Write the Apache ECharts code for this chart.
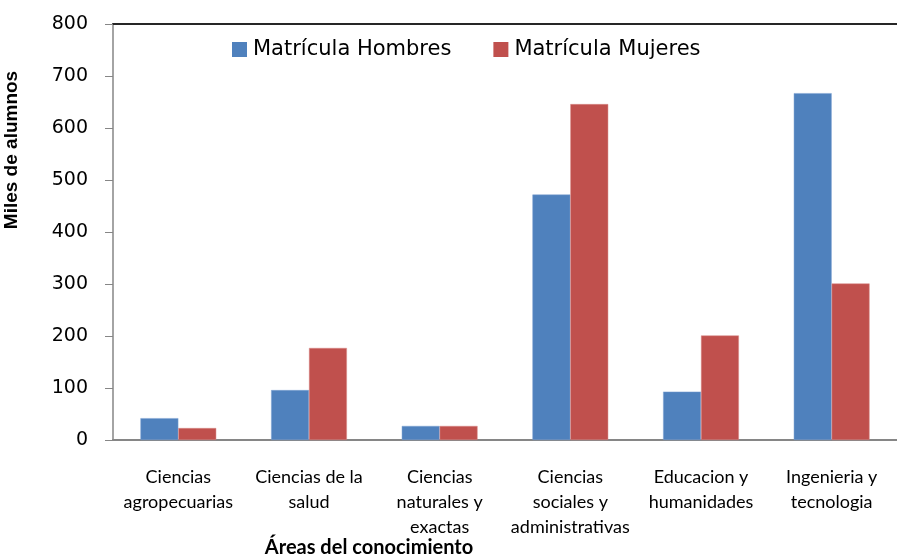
<!DOCTYPE html>
<html>
<head>
<meta charset="utf-8">
<script src="https://cdn.jsdelivr.net/npm/echarts@6/dist/echarts.min.js"></script>
<style>html,body{margin:0;padding:0;background:#fff;}#c{width:897px;height:555px;}</style>
</head>
<body>
<div id="c"></div>
<script>
const categories = ["Ciencias\nagropecuarias", "Ciencias de la\nsalud", "Ciencias\nnaturales y\nexactas", "Ciencias\nsociales y\nadministrativas", "Educacion y\nhumanidades", "Ingenieria y\ntecnologia"];
const hombres = [42, 96, 27, 472, 93, 667];
const mujeres = [23, 177, 27, 646, 201, 301];
const seriesNames = ["Matrícula Hombres", "Matrícula Mujeres"];
const yTicks = [0, 800, 100];

const chart = echarts.init(document.getElementById('c'), null, {renderer: 'canvas'});
chart.setOption({
  animation: false,
  backgroundColor: '#fff',
  grid: {left: 113, right: 0, top: 24, bottom: 115},
  title: {
    text: 'Áreas del conocimiento',
    left: 369, top: 538, textAlign: 'center', padding: 0,
    textStyle: {fontFamily: 'Lato', fontWeight: 'bold', fontSize: 20, color: '#000', lineHeight: 20}
  },
  graphic: [{
    type: 'text', x: 12, y: 150, rotation: Math.PI / 2,
    style: {text: 'Miles de alumnos', font: 'bold 19px "Liberation Sans"', fill: '#000', align: 'center', verticalAlign: 'middle'}
  }],
  legend: {
    data: seriesNames, left: 232, top: 39, padding: 0,
    itemWidth: 15, itemHeight: 15, itemGap: 42,
    icon: 'rect',
    itemStyle: {borderWidth: 0},
    textStyle: {fontFamily: 'DejaVu Sans', fontSize: 21, color: '#000', padding: [0, 0, 0, 1]}
  },
  xAxis: [{
    type: 'category', data: categories,
    axisLine: {lineStyle: {color: '#868686', width: 2}},
    axisTick: {show: false},
    axisLabel: {fontFamily: 'Lato', fontSize: 18, color: '#000', lineHeight: 25, margin: 25, interval: 0}
  }, {
    type: 'category', data: categories, position: 'top',
    axisLine: {lineStyle: {color: '#262626', width: 2}},
    axisTick: {show: false}, axisLabel: {show: false}
  }],
  yAxis: {
    type: 'value', min: yTicks[0], max: yTicks[1], interval: yTicks[2],
    axisLine: {show: true, lineStyle: {color: '#868686', width: 1.5}},
    axisTick: {show: true, length: 8, lineStyle: {color: '#868686'}},
    splitLine: {show: false},
    axisLabel: {fontFamily: 'DejaVu Sans', fontSize: 19, color: '#000', margin: 25}
  },
  series: [{
    name: seriesNames[0], type: 'bar', data: hombres,
    barGap: '0%', barCategoryGap: '42%',
    itemStyle: {color: '#4F81BD', borderColor: '#7FA3D3', borderWidth: 0.5}
  }, {
    name: seriesNames[1], type: 'bar', data: mujeres,
    itemStyle: {color: '#C0504D', borderColor: '#D98A88', borderWidth: 0.5}
  }]
});
</script>
</body>
</html>
